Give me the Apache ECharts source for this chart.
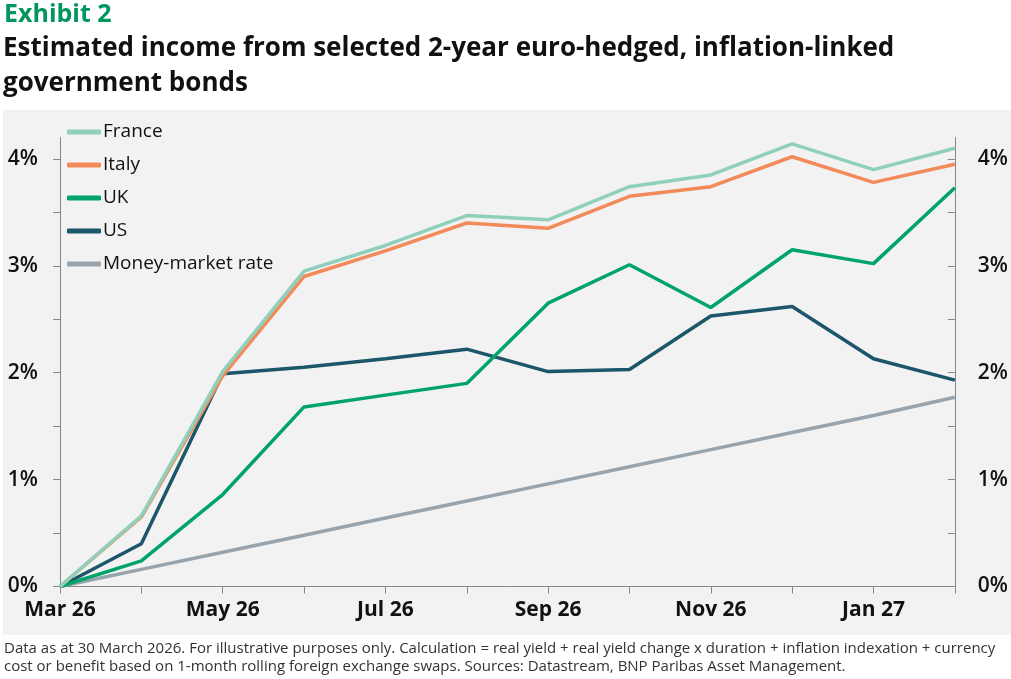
<!DOCTYPE html>
<html>
<head>
<meta charset="utf-8">
<title>Exhibit 2</title>
<script src="https://cdn.jsdelivr.net/npm/echarts@6/dist/echarts.min.js"></script>
<style>
  html, body { margin: 0; padding: 0; background: #fff; }
  #chart { width: 1011px; height: 679px; }
</style>
</head>
<body>
<div id="chart"></div>
<script>
// months, Mar 26 .. Feb 27
const months = ['Mar 26', 'Apr 26', 'May 26', 'Jun 26', 'Jul 26', 'Aug 26',
                'Sep 26', 'Oct 26', 'Nov 26', 'Dec 26', 'Jan 27', 'Feb 27'];

// cumulative estimated income, %
const france = [0, 0.66, 2.01, 2.95, 3.19, 3.47, 3.43, 3.74, 3.85, 4.14, 3.90, 4.10];
const italy  = [0, 0.65, 1.97, 2.90, 3.14, 3.40, 3.35, 3.65, 3.74, 4.02, 3.78, 3.95];
const uk     = [0, 0.24, 0.86, 1.68, 1.79, 1.90, 2.65, 3.01, 2.61, 3.15, 3.02, 3.73];
const us     = [0, 0.40, 1.99, 2.05, 2.13, 2.22, 2.01, 2.03, 2.53, 2.62, 2.13, 1.93];
const moneyMarket = [0, 0.16, 0.32, 0.48, 0.64, 0.80, 0.96, 1.12, 1.28, 1.44, 1.60, 1.77];

const yTicks = [0, 0.5, 1, 1.5, 2, 2.5, 3, 3.5, 4];
const yLabels = [0, 1, 2, 3, 4];

const FONT = '"Open Sans"';

const seriesDefs = [
  { name: 'France', data: france, color: '#90d0bb' },
  { name: 'Italy', data: italy, color: '#f28a5a' },
  { name: 'UK', data: uk, color: '#00a46a' },
  { name: 'US', data: us, color: '#1b566a' },
  { name: 'Money-market rate', data: moneyMarket, color: '#97a3ad' }
];

function yAxisDef(position) {
  const left = position === 'left';
  return {
    type: 'value',
    position: position,
    min: 0,
    max: 4.2,
    interval: 0.5,
    splitLine: { show: false },
    axisLine: { show: true, lineStyle: { color: '#888', width: 1 } },
    axisTick: {
      show: true,
      inside: !left,
      length: 7,
      customValues: yTicks,
      lineStyle: { color: '#888' }
    },
    axisLabel: {
      customValues: yLabels,
      formatter: v => v + '%',
      margin: left ? 22 : 23,
      fontFamily: FONT,
      fontSize: 21,
      fontWeight: 600,
      color: '#111'
    }
  };
}

const chart = echarts.init(document.getElementById('chart'));

const option = {
  animation: false,
  backgroundColor: '#fff',
  textStyle: { fontFamily: FONT },
  graphic: [
    {
      type: 'rect',
      z: -10,
      silent: true,
      shape: { x: 3, y: 110, width: 1008, height: 525 },
      style: { fill: '#f2f2f2' }
    },
    {
      type: 'text', left: 4, top: 2,
      style: { text: 'Exhibit 2', fill: '#00965e', font: 'bold 25px ' + FONT }
    },
    {
      type: 'text', left: 3, top: 31,
      style: {
        text: 'Estimated income from selected 2-year euro-hedged, inflation-linked\ngovernment bonds',
        fill: '#111', font: 'bold 26px ' + FONT, lineHeight: 35
      }
    },
    {
      type: 'text', left: 4, top: 640,
      style: {
        text: 'Data as at 30 March 2026. For illustrative purposes only. Calculation = real yield + real yield change x duration + inflation indexation + currency\ncost or benefit based on 1-month rolling foreign exchange swaps. Sources: Datastream, BNP Paribas Asset Management.',
        fill: '#333', font: '15px ' + FONT, lineHeight: 18
      }
    }
  ],
  legend: {
    orient: 'vertical',
    left: 62,
    top: 117,
    itemWidth: 34,
    itemHeight: 5,
    itemGap: 13,
    icon: 'roundRect',
    textStyle: { fontFamily: FONT, fontSize: 19, color: '#111', lineHeight: 20, padding: [0, 0, 0, -3] },
    data: seriesDefs.map(s => s.name)
  },
  grid: { left: 60, right: 56, top: 137.5, bottom: 92.5, containLabel: false },
  xAxis: {
    type: 'category',
    data: months,
    boundaryGap: false,
    axisLine: { show: true, lineStyle: { color: '#888', width: 1 } },
    axisTick: { show: true, interval: 0, length: 7, lineStyle: { color: '#888' } },
    axisLabel: {
      interval: 1,
      margin: 13,
      fontFamily: FONT,
      fontSize: 21,
      fontWeight: 'bold',
      color: '#111'
    },
    splitLine: { show: false }
  },
  yAxis: [yAxisDef('left'), yAxisDef('right')],
  series: seriesDefs.slice().reverse().map(s => ({
    name: s.name,
    type: 'line',
    data: s.data,
    showSymbol: false,
    symbol: 'none',
    color: s.color,
    lineStyle: { color: s.color, width: 3.5 },
    itemStyle: { color: s.color },
    z: 2
  }))
};

chart.setOption(option);
</script>
</body>
</html>
